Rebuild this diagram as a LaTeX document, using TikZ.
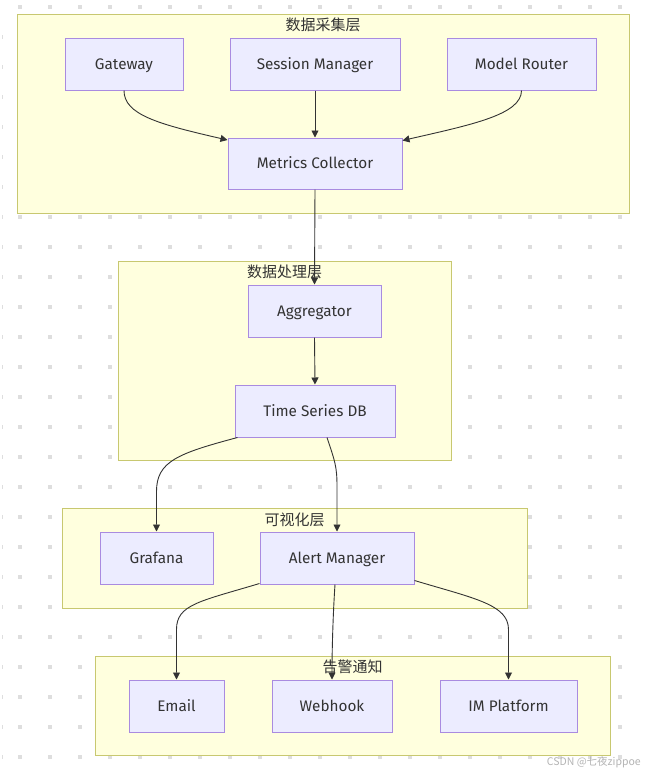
\documentclass[tikz,border=0pt]{standalone}
\usepackage{fontspec}
\setmainfont{Fira Sans}
\newfontfamily\cjk{Noto Sans CJK SC}
\usetikzlibrary{arrows.meta,calc}
\definecolor{clfill}{HTML}{FFFFDE}
\definecolor{clborder}{HTML}{C8C870}
\definecolor{ndfill}{HTML}{ECECFF}
\definecolor{ndborder}{HTML}{A98BE0}
\definecolor{txt}{HTML}{333333}
\definecolor{dotc}{HTML}{DEDEDE}
\definecolor{wm}{HTML}{B4B4B4}
\tikzset{
  cluster/.style={draw=clborder, fill=clfill, line width=1pt, inner sep=0pt},
  cltitle/.style={text=txt, font=\cjk\fontsize{15}{15}\selectfont, inner sep=0pt},
  nodebox/.style={draw=ndborder, fill=ndfill, line width=1pt, inner sep=0pt, minimum height=52pt, text=txt, font=\fontsize{15.3}{16}\selectfont, text height=12.5pt, text depth=2pt},
  edge/.style={draw=txt, line width=0.9pt, -{Triangle[length=7pt,width=7pt]}},
}
\begin{document}
\begin{tikzpicture}[x=1pt,y=-1pt]
\useasboundingbox (0,0) rectangle (647,772);
\fill[white] (0,0) rectangle (647,772);
% background dots
\foreach \i in {0,...,20} {
  \foreach \j in {0,...,25} {
    \fill[dotc] ({20+30*\i-2},{7+30*\j-2}) rectangle ++(4,4);
  }
}
\foreach \j in {1,...,25} {
  \fill[dotc] (1.5,{7+30*\j-2}) rectangle ++(1.2,4);
}
% clusters
\node[cluster, minimum width=612pt, minimum height=199pt] (c1) at (323,113.5) {};
\node[cltitle] (t1) at (323,25) {数据采集层};
\node[cluster, minimum width=333pt, minimum height=199pt] (c2) at (284.5,360.5) {};
\node[cltitle] (t2) at (284.5,272) {数据处理层};
\node[cluster, minimum width=465pt, minimum height=100pt] (c3) at (294.5,558) {};
\node[cltitle] (t3) at (294.5,520) {可视化层};
\node[cluster, minimum width=515pt, minimum height=99pt] (c4) at (352.5,705.5) {};
\node[cltitle] (t4) at (352.5,667) {告警通知};
% nodes
\node[nodebox, minimum width=118pt] (gw) at (124,64) {Gateway};
\node[nodebox, minimum width=170pt] (sm) at (315,64) {Session Manager};
\node[nodebox, minimum width=149pt] (mr) at (521.5,64) {Model Router};
\node[nodebox, minimum width=174pt, minimum height=51pt] (mc) at (315,163.5) {Metrics Collector};
\node[nodebox, minimum width=133pt] (ag) at (314.5,311) {Aggregator};
\node[nodebox, minimum width=160pt] (ts) at (315,411) {Time Series DB};
\node[nodebox, minimum width=113pt] (gf) at (156.5,558) {Grafana};
\node[nodebox, minimum width=154pt] (am) at (337,558) {Alert Manager};
\node[nodebox, minimum width=95pt] (em) at (176.5,706) {Email};
\node[nodebox, minimum width=120pt] (wh) at (332,706) {Webhook};
\node[nodebox, minimum width=137pt] (im) at (508.5,706) {IM Platform};
% edges
\draw[edge] (gw.south) .. controls +(0,24) and +(-70,-16) .. ($(mc.north west)+(0,2.5)$);
\draw[edge] (sm.south) -- (mc.north);
\draw[edge] (mr.south) .. controls +(0,24) and +(70,-16) .. ($(mc.north east)+(0,3)$);
\draw[edge] (mc.south) -- (ag.north);
\draw[edge] (ag.south) -- (ts.north);
\draw[edge] ($(ts.south west)+(3,0)$) .. controls +(-60,16) and +(0,-30) .. ($(gf.north)+(0,-40)$) -- (gf.north);
\draw[edge] ($(ts.south)+(12,0)$) .. controls +(8,24) and +(0,-20) .. ($(am.north)+(0,-45)$) -- (am.north);
\draw[edge] ($(am.south west)+(0,-1)$) .. controls +(-60,18) and +(0,-25) .. ($(em.north)+(0,-50)$) -- (em.north);
\draw[edge] ($(am.south)+(-2,0)$) .. controls +(-2,30) and +(0,-30) .. (wh.north);
\draw[edge] ($(am.south east)+(0,-4)$) .. controls +(60,18) and +(0,-25) .. ($(im.north)+(0,-50)$) -- (im.north);
% watermark
\node[text=wm, font=\cjk\fontsize{10.5}{11}\selectfont, inner sep=0pt, anchor=east] (wmk) at (641,762) {CSDN @七夜zippoe};
\end{tikzpicture}
\end{document}
